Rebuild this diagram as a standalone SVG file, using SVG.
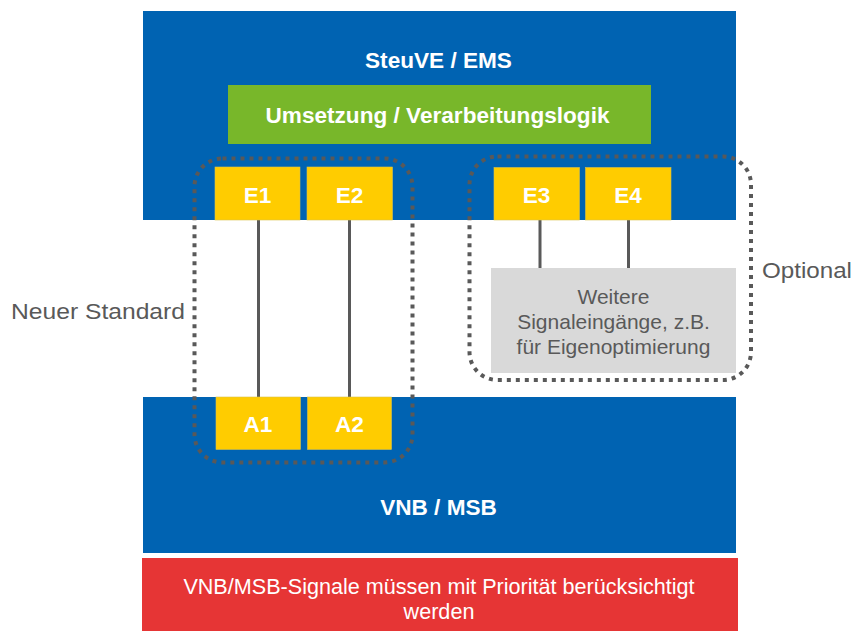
<svg xmlns="http://www.w3.org/2000/svg" width="854" height="631" viewBox="0 0 854 631">
<style>
  .blue { fill: #0063b2; }
  .yel { fill: #ffcc00; stroke: #d9c24a; stroke-width: 0.6; }
  .wb { font-family: "Liberation Sans", Arial, sans-serif; font-weight: bold; font-size: 22.6px; fill: #ffffff; text-anchor: middle; }
  .gt { font-family: "Liberation Sans", Arial, sans-serif; font-size: 21px; fill: #595959; text-anchor: middle; }
  .wt { font-family: "Liberation Sans", Arial, sans-serif; font-size: 21.6px; fill: #ffffff; text-anchor: middle; }
  .lbl { font-family: "Liberation Sans", Arial, sans-serif; font-size: 22px; fill: #595959; }
  .dot { fill: none; stroke: #595959; stroke-width: 4; stroke-dasharray: 4 5; }
  .conn { stroke: #595959; stroke-width: 3; fill: none; }
</style>
<rect width="854" height="631" fill="#ffffff"/>

<g id="steuve">
  <rect class="blue" x="143" y="11" width="593" height="209"/>
  <text class="wb" x="438.5" y="68">SteuVE / EMS</text>
</g>
<g id="logik">
  <rect x="228" y="85" width="423" height="59" fill="#78b72a"/>
  <text class="wb" x="437.5" y="122.5">Umsetzung / Verarbeitungslogik</text>
</g>
<g id="vnb">
  <rect class="blue" x="143" y="397" width="593" height="156"/>
  <text class="wb" x="438.5" y="515">VNB / MSB</text>
</g>
<g id="prio">
  <rect x="142" y="558" width="596" height="73" fill="#e63535"/>
  <text class="wt" x="439" y="593.5">VNB/MSB-Signale müssen mit Priorität berücksichtigt</text>
  <text class="wt" x="439" y="619">werden</text>
</g>
<g id="weitere">
  <rect x="491" y="268" width="245" height="105" fill="#d9d9d9"/>
  <text class="gt" x="613.5" y="304">Weitere</text>
  <text class="gt" x="613.5" y="329">Signaleingänge, z.B.</text>
  <text class="gt" x="613.5" y="353.5">für Eigenoptimierung</text>
</g>

<g id="connectors">
  <line class="conn" x1="258.5" y1="219" x2="258.5" y2="397"/>
  <line class="conn" x1="349.5" y1="219" x2="349.5" y2="397"/>
  <line class="conn" x1="540" y1="219" x2="540" y2="268"/>
  <line class="conn" x1="628.5" y1="219" x2="628.5" y2="268"/>
</g>

<g id="e1"><rect class="yel" x="215" y="167" width="85" height="53"/><text class="wb" x="257.5" y="202.5">E1</text></g>
<g id="e2"><rect class="yel" x="307" y="167" width="85.5" height="53"/><text class="wb" x="349.5" y="202.5">E2</text></g>
<g id="e3"><rect class="yel" x="494" y="167.5" width="85.5" height="52.5"/><text class="wb" x="536.5" y="202.5">E3</text></g>
<g id="e4"><rect class="yel" x="585.5" y="167.5" width="85.5" height="52.5"/><text class="wb" x="628" y="202.5">E4</text></g>
<g id="a1"><rect class="yel" x="216" y="397" width="84.5" height="52.5"/><text class="wb" x="258" y="432">A1</text></g>
<g id="a2"><rect class="yel" x="307.5" y="397" width="84" height="52.5"/><text class="wb" x="349.5" y="432">A2</text></g>

<g id="neuer-standard">
  <rect class="dot" x="194.5" y="158.5" width="218" height="304" rx="28"/>
  <text class="lbl" x="11" y="318.5" textLength="174" lengthAdjust="spacingAndGlyphs">Neuer Standard</text>
</g>
<g id="optional">
  <rect class="dot" x="469.5" y="156.5" width="281.5" height="223.5" rx="28"/>
  <text class="lbl" x="762" y="277.5" textLength="90" lengthAdjust="spacingAndGlyphs">Optional</text>
</g>
</svg>
